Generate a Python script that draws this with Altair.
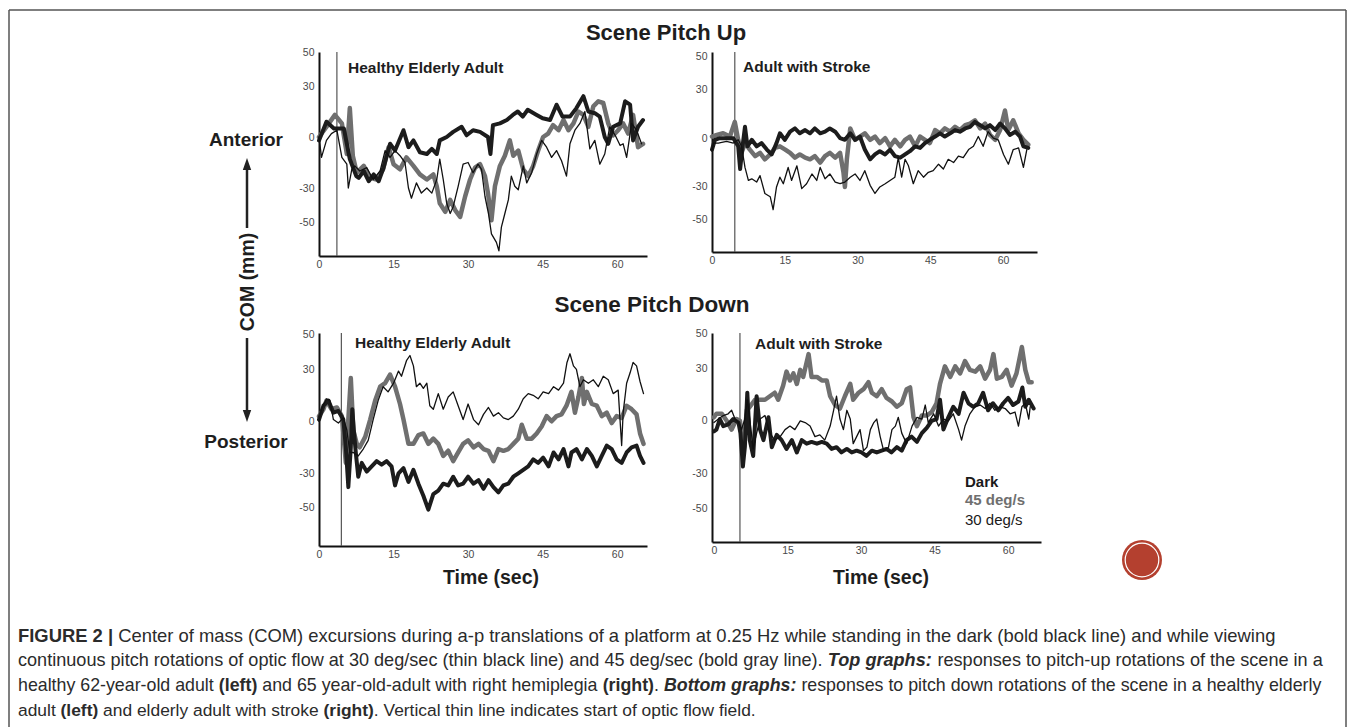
import altair as alt
import pandas as pd

FONT = "Liberation Sans"

# ---------------- data (time in s, COM in mm) ----------------
TIME_TICKS = [0, 15, 30, 45, 60]
COM_TICKS = [50, 30, 0, -30, -50]

# Scene pitch up - healthy elderly adult
TL_DARK = [(0,-2),(1.5,9),(3,5),(5,5),(6.2,-13),(7.5,-23),(8,-24),(9,-20),(10,-26),(11,-22),(12,-26),(13,-18),(14.3,-4),(15.3,-8),(17,4),(18,-6),(19,-2),(20.3,-9),(21.7,-10),(22.7,-7),(23.7,-10),(24.3,-2),(25.7,0),(27,3),(28.7,6),(29.7,1),(31,4),(32.4,3),(34,0),(34.5,-10),(35,7),(36.4,8),(37.8,10),(39,13),(40,15),(41,12),(42,16),(43.8,13),(45,11),(46.5,10),(47.8,19),(49,12),(50.5,12),(51.8,17),(53.2,24),(54.2,15),(55.5,14),(56.5,12),(57.5,0),(58.2,-4),(59.2,6),(60.6,8),(61.6,21),(62.6,19),(63.2,-2),(64.2,6),(65.2,10)]
TL_GRAY = [(0,0),(1.5,6),(3.2,13),(4.6,8),(5.6,-10),(6.2,17),(6.8,-11),(7.6,-21),(9,-17),(10.3,-24),(11.6,-25),(12.9,-19),(14,-6),(15,-16),(16.3,-19),(17.6,-12),(19,-17),(20.3,-22),(21.7,-25),(23,-22),(23.7,-29),(24.3,-39),(25.4,-44),(26.4,-37),(27.4,-43),(28.4,-47),(29.4,-35),(30.4,-25),(31.4,-18),(32.4,-16),(33.4,-23),(34,-33),(34.7,-49),(35.4,-29),(36.4,-17),(37.4,-11),(38.4,-2),(39.1,-11),(40.1,-8),(41.1,-19),(42.1,-23),(43.1,-17),(44.1,-8),(45.1,0),(46.1,2),(47.1,7),(48.2,4),(49.2,10),(50.2,4),(51.2,8),(52.2,15),(53.2,13),(54.2,6),(55.2,18),(56.2,21),(57.2,20),(58.2,8),(59.2,1),(60.2,4),(61.2,8),(62.2,2),(63.2,13),(64.2,-6),(65.2,-4)]
TL_THIN = [(0,0),(0.5,-12),(1.5,-2),(2.5,2),(3.6,4),(4.6,-12),(5.6,-16),(5.9,-30),(6.6,-19),(7.2,-17),(8.2,-20),(9.6,-18),(10.9,-25),(12.3,-20),(13.3,-8),(14.3,-12),(15.3,-8),(16.3,-11),(17.3,-15),(18,-30),(18.6,-36),(19.6,-27),(20.6,-33),(21.7,-30),(22.7,-33),(23.7,-25),(24.3,-13),(25,-25),(25.7,-39),(26.4,-45),(27,-41),(28,-29),(29,-16),(30,-15),(31,-21),(32,-16),(32.7,-19),(33.4,-35),(34.1,-45),(34.7,-57),(35.7,-62),(36.2,-67),(36.7,-53),(37.4,-45),(38.1,-37),(38.7,-23),(39.4,-29),(40.1,-31),(41.1,-17),(41.8,-27),(42.8,-21),(43.8,-10),(44.8,-2),(45.8,-6),(46.8,-12),(47.8,-8),(48.8,-14),(49.8,-23),(50.5,-4),(51.5,4),(52.5,8),(53.5,15),(54.5,-7),(55.5,-2),(56.5,-16),(57.5,-10),(58.5,6),(59.6,1),(60.6,-5),(61.2,-4),(61.9,-12),(62.9,8),(63.9,4),(64.9,-4)]

# Scene pitch up - adult with stroke
TR_DARK = [(0,-7),(0.6,-1),(1.6,0),(3,0),(4.4,0),(5.4,-5),(5.8,-19),(6.3,-5),(6.8,7),(7.3,-5),(8.2,-1),(9.2,-5),(10.2,-3),(11.3,-7),(12.3,-10),(13.3,-3),(14,3),(15,-1),(16.1,4),(17.1,6),(18.1,3),(19.2,5),(20.2,3),(21.2,6),(22.3,3),(23.3,4),(24.3,6),(25.4,4),(26.4,0),(27.4,-1),(28.5,3),(29.5,-1),(30.5,1),(31.5,-7),(32.6,-13),(33.6,-10),(34.6,-8),(35.7,-10),(36.7,-7),(37.7,-11),(38.8,-12),(39.8,-10),(40.8,-8),(41.9,-5),(42.9,-6),(43.9,-3),(44.9,-1),(46,1),(47,3),(48,1),(49.1,3),(50.1,5),(51.1,4),(52.2,6),(53.2,7),(54.2,10),(55.3,8),(56.3,6),(57.3,8),(58.4,5),(59.4,9),(60.4,6),(61.4,2),(62.5,4),(63.5,1),(64.2,-5),(65.2,-6)]
TR_GRAY = [(0,1),(1,2),(2.3,3),(3.7,1),(4.7,10),(5.4,-1),(6.1,-9),(6.8,-3),(7.8,-7),(8.9,-11),(9.9,-9),(10.9,-13),(12,-10),(13,-6),(14,-5),(15.1,-7),(16.1,-9),(17.1,-12),(18.1,-10),(19.2,-12),(20.2,-13),(21.2,-11),(22.3,-15),(23.3,-11),(24.3,-9),(25.4,-12),(26.4,-9),(27.1,-21),(27.4,-30),(27.8,-13),(28.5,6),(29.5,-1),(30.5,1),(31.5,3),(32.6,-1),(33.6,1),(34.6,-3),(35.7,0),(36.7,-5),(37.7,-1),(38.8,-5),(39.8,-1),(40.8,1),(41.9,-5),(42.9,1),(43.9,-1),(44.9,-3),(46,5),(47,3),(48,6),(49.1,4),(50.1,7),(51.1,5),(52.2,8),(53.2,9),(54.2,11),(55.3,6),(56.3,9),(57.3,2),(58.4,-1),(59.4,5),(60.4,17),(61.1,5),(62.1,11),(63.2,3),(64.2,-1),(65.2,-4)]
TR_THIN = [(0,-8),(0.3,-3),(1.3,-3),(3,-2),(4.4,-3),(5.4,-1),(6.1,-5),(6.8,-18),(7.5,-26),(8.2,-25),(9.2,-27),(9.9,-23),(10.9,-34),(12,-36),(12.6,-44),(13.3,-30),(14,-24),(14.7,-28),(15.7,-18),(16.4,-26),(17.5,-17),(18.5,-31),(19.5,-28),(20.6,-22),(21.6,-26),(22.3,-18),(23.3,-25),(24.3,-22),(25.4,-27),(26.4,-28),(27.4,-27),(28.5,-24),(29.5,-22),(30.5,-26),(31.5,-20),(32.6,-29),(33.6,-34),(34.6,-30),(35.7,-28),(36.7,-26),(37.7,-24),(38.4,-12),(39.1,-24),(39.8,-13),(40.5,-17),(41.5,-28),(42.5,-20),(43.6,-24),(44.6,-21),(45.6,-20),(46.7,-16),(47.7,-19),(48.7,-13),(49.8,-15),(50.8,-11),(51.8,-12),(52.9,-7),(53.9,-5),(54.9,1),(55.9,-5),(56.9,4),(58,0),(59,-1),(60.1,-10),(61.1,-16),(62.1,-7),(63.2,-6),(64.2,-18),(64.9,-7)]

# Scene pitch down - healthy elderly adult
BL_DARK = [(0,1),(0.9,9),(1.9,12),(2.9,5),(3.9,6),(4.9,1),(5.4,-15),(5.9,-38),(6.4,-15),(6.7,7),(7,-5),(7.4,-18),(7.9,-32),(8.6,-24),(9.6,-29),(10.6,-26),(11.6,-23),(12.6,-25),(13.6,-23),(14.6,-26),(15.3,-37),(16,-30),(17,-27),(18,-35),(19,-28),(20,-36),(21,-43),(22,-51),(23,-42),(24,-40),(25,-36),(26,-37),(27,-32),(28,-37),(29,-36),(30,-32),(31.1,-36),(32.1,-34),(33.1,-39),(34.1,-34),(35.1,-38),(36.1,-41),(37.1,-37),(38.1,-36),(39.1,-32),(40.1,-30),(41.1,-28),(42.1,-26),(43.1,-22),(44.1,-24),(45.1,-21),(46.2,-26),(47.2,-18),(48.2,-22),(49.2,-16),(50.2,-26),(50.8,-18),(51.8,-16),(52.9,-22),(53.9,-16),(54.9,-20),(55.9,-26),(56.9,-20),(57.9,-14),(58.9,-16),(59.9,-22),(60.9,-24),(61.9,-18),(62.9,-15),(63.9,-14),(64.6,-20),(65.3,-24)]
BL_GRAY = [(0,3),(0.9,7),(1.5,12),(2.5,7),(3.6,8),(4.6,3),(5.4,-24),(5.9,1),(6.4,25),(6.9,-5),(7.6,-13),(8.2,-15),(9.3,-9),(10.3,1),(11.3,12),(12.3,20),(13.3,22),(14.3,27),(15.3,20),(16.3,10),(17,1),(18,-13),(19,-13),(20,-8),(21,-7),(22,-13),(23,-10),(24,-13),(25,-20),(26,-17),(27,-23),(28,-18),(29,-13),(30,-11),(31.1,-15),(32.1,-13),(33.1,-16),(34.1,-17),(35.1,-23),(36.1,-16),(37.1,-17),(38.1,-16),(39.1,-13),(40.1,-10),(40.8,-2),(41.8,-10),(42.8,-10),(43.8,-7),(44.8,-3),(45.8,3),(46.8,0),(47.8,3),(48.8,4),(49.8,9),(50.8,17),(51.5,5),(52.2,14),(52.9,25),(53.3,10),(53.9,17),(54.9,10),(55.9,9),(56.9,3),(57.9,5),(58.9,-1),(59.9,3),(60.9,2),(61.9,9),(62.9,7),(63.9,4),(64.6,-7),(65.3,-13)]
BL_THIN = [(0,0),(0.5,7),(1.5,13),(2.2,12),(2.9,1),(3.9,-1),(4.9,2),(5.6,-5),(6.2,-18),(6.9,-18),(7.9,-20),(8.9,-16),(9.9,-11),(10.9,1),(11.9,12),(12.9,20),(13.9,17),(15,22),(16,29),(16.6,26),(17.6,35),(18.3,38),(19,32),(19.6,20),(20.3,22),(21,19),(21.7,22),(22.3,9),(23,7),(24,16),(25,7),(26,14),(27,17),(28,9),(29,1),(30,10),(31.1,1),(32.1,-2),(33.1,4),(34.1,8),(35.1,3),(36.1,5),(37.1,2),(38.1,1),(39.1,3),(40.1,7),(41.1,13),(42.1,16),(43.1,15),(44.1,13),(45.1,17),(46.2,16),(47.2,20),(48.2,18),(49.2,22),(49.9,34),(50.5,39),(51.2,32),(51.8,30),(52.5,20),(53.2,24),(54.2,22),(55.2,24),(56.2,20),(57.2,26),(58.2,24),(59.2,16),(60.2,18),(60.9,-14),(61.2,5),(61.9,22),(62.6,28),(63.2,34),(63.9,32),(64.6,23),(65.3,16)]

# Scene pitch down - adult with stroke
BR_DARK = [(0,-6),(0.5,-5),(1.2,1),(1.9,-3),(2.9,-2),(3.9,1),(5,-1),(5.4,-7),(5.9,-26),(6.3,-15),(6.8,16),(7.3,-11),(8,-20),(8.7,14),(9.4,-5),(10.1,-11),(11.1,2),(11.8,-15),(12.8,-8),(13.8,-11),(14.8,-16),(15.9,-11),(16.9,-18),(17.9,-11),(18.9,-13),(19.9,-12),(21,-13),(22,-12),(23,-13),(24,-16),(25,-15),(26,-18),(27.1,-16),(28.1,-18),(29.1,-17),(30.1,-18),(31.1,-20),(32.2,-17),(33.2,-18),(34.2,-17),(35.2,-16),(36.2,-18),(37.3,-15),(38.3,-17),(39.3,-11),(40.3,-9),(41.4,-12),(42.4,-7),(43.4,-4),(44.4,0),(45.4,1),(46.1,12),(46.8,-5),(47.8,2),(48.8,8),(49.9,4),(50.9,16),(51.9,10),(52.9,8),(53.9,10),(54.9,16),(55.9,6),(56.9,10),(58,6),(59,10),(60,13),(61,9),(62.1,11),(62.9,19),(63.5,8),(64.2,12),(65.2,7)]
BR_GRAY = [(0,2),(0.5,4),(1.6,4),(2.6,0),(3.6,-5),(4.6,1),(5.3,0),(6,-16),(6.7,6),(7.3,8),(8.4,12),(9.4,12),(10.4,12),(11.4,14),(12.4,16),(13.1,12),(14.1,20),(14.8,28),(15.5,23),(16.2,27),(16.9,21),(17.6,29),(18.2,25),(19.3,38),(19.9,25),(21,25),(22,23),(23,23),(23.7,14),(24.7,9),(25.7,7),(26.7,14),(27.8,21),(28.4,12),(29.5,16),(30.5,18),(31.5,22),(32.2,16),(33.2,14),(34.2,18),(35.2,13),(36.3,11),(37.3,8),(38.3,10),(39.3,18),(40,19),(40.7,2),(41.4,-3),(42.4,3),(43.4,3),(44.4,5),(45.4,10),(46.1,21),(47.1,31),(48.2,25),(49.2,31),(50.2,27),(51.2,34),(52.2,29),(53.3,28),(54.3,31),(55.3,24),(56.3,29),(57,38),(57.7,24),(58.7,25),(59.7,29),(60.7,20),(61.7,27),(62.8,42),(63.5,29),(64.2,22),(64.8,22)]
BR_THIN = [(0,-1),(0.9,1),(1.9,3),(2.9,4),(3.6,6),(4.3,1),(5,-1),(5.6,-5),(6.3,1),(6.8,12),(7.3,1),(8,-16),(8.7,-7),(9.4,1),(10.4,3),(11.4,-7),(12.4,-11),(13.5,-9),(14.5,-5),(15.5,-3),(16.5,-5),(17.6,0),(18.6,-1),(19.6,-3),(20.6,-9),(21.6,-8),(22.6,-11),(23.7,-3),(24.4,6),(25,14),(25.7,1),(26.4,-5),(27.1,6),(27.8,1),(28.4,-13),(29.1,-9),(29.8,-5),(30.5,-17),(31.2,-15),(31.9,-5),(32.6,-1),(33.2,1),(33.9,-9),(34.6,-17),(35.6,-15),(36.3,-5),(37,-3),(37.6,2),(38.3,-7),(39.3,-13),(40.4,-3),(41.4,2),(42.4,1),(43.1,9),(43.7,-1),(44.8,4),(45.8,-3),(46.8,1),(47.8,0),(48.8,4),(49.9,-5),(50.5,-11),(51.2,-3),(52.2,4),(53.2,8),(54.3,9),(55.3,7),(56.3,10),(57.3,6),(58.4,8),(59.4,7),(60.4,4),(61.4,5),(62.1,-3),(62.8,8),(63.5,10),(64.2,1),(64.5,8)]

# start of optic flow (s)
ONSET_TL, ONSET_TR, ONSET_BL, ONSET_BR = 3.6, 4.7, 4.5, 5.3

TITLES = ["Scene Pitch Up", "Scene Pitch Down"]
PANEL_TITLES = ["Healthy Elderly Adult", "Adult with Stroke", "Healthy Elderly Adult", "Adult with Stroke"]
LEGEND = ["Dark", "45 deg/s", "30 deg/s"]
CAPTION = [
    [("FIGURE 2 | ", "bold", "normal"),
     ("Center of mass (COM) excursions during a-p translations of a platform at 0.25 Hz while standing in the dark (bold black line) and while viewing", "normal", "normal")],
    [("continuous pitch rotations of optic flow at 30 deg/sec (thin black line) and 45 deg/sec (bold gray line). ", "normal", "normal"),
     ("Top graphs:", "bold", "italic"),
     (" responses to pitch-up rotations of the scene in a", "normal", "normal")],
    [("healthy 62-year-old adult ", "normal", "normal"), ("(left)", "bold", "normal"),
     (" and 65 year-old-adult with right hemiplegia ", "normal", "normal"), ("(right)", "bold", "normal"),
     (". ", "normal", "normal"), ("Bottom graphs:", "bold", "italic"),
     (" responses to pitch down rotations of the scene in a healthy elderly", "normal", "normal")],
    [("adult ", "normal", "normal"), ("(left)", "bold", "normal"),
     (" and elderly adult with stroke ", "normal", "normal"), ("(right)", "bold", "normal"),
     (". Vertical thin line indicates start of optic flow field.", "normal", "normal")],
]

# ---------------- styling ----------------
C_DARK, C_GRAY, C_THIN = "#1c1c1c", "#6f6f6f", "#111111"
TXT = "#1e1e1e"
CAP_COLOR = "#2b2b2b"

# Helvetica/Arial advance widths (1/1000 em) for caption layout
_REG = dict(zip(" ()-.,/:|", [278, 333, 333, 333, 278, 278, 278, 278, 260]))
_REG.update({d: 556 for d in "0123456789"})
_REG.update(dict(zip("ABCDEFGHIJKLMNOPQRSTUVWXYZ", [667,667,722,722,667,611,778,722,278,500,667,556,833,722,778,667,778,722,667,611,722,667,944,667,667,611])))
_REG.update(dict(zip("abcdefghijklmnopqrstuvwxyz", [556,556,500,556,556,278,556,556,222,222,500,222,833,556,556,556,556,333,500,278,556,500,722,500,500,500])))
_BOLD = dict(zip(" ()-.,/:|", [278, 333, 333, 333, 278, 278, 278, 333, 280]))
_BOLD.update({d: 556 for d in "0123456789"})
_BOLD.update(dict(zip("ABCDEFGHIJKLMNOPQRSTUVWXYZ", [722,722,722,722,667,611,778,722,278,556,722,611,833,722,778,667,778,722,667,611,722,667,944,667,667,611])))
_BOLD.update(dict(zip("abcdefghijklmnopqrstuvwxyz", [556,611,556,611,556,333,611,611,278,278,556,278,889,611,611,611,611,389,556,333,611,556,778,556,556,500])))


def text_width(s, weight, size):
    tab = _BOLD if weight == "bold" else _REG
    return sum(tab.get(c, 556) for c in s) * size / 1000.0


ONE = pd.DataFrame({"k": [0]})


def label(s, x, y, size, weight="normal", color=TXT, align="left", angle=0, style="normal"):
    return alt.Chart(ONE).mark_text(
        text=s, font=FONT, fontSize=size, fontWeight=weight, fontStyle=style,
        color=color, align=align, baseline="middle", angle=angle,
    ).encode(x=alt.value(x), y=alt.value(y))


def seg(x1, y1, x2, y2, color="#222", width=2.0):
    return alt.Chart(ONE).mark_rule(color=color, strokeWidth=width).encode(
        x=alt.value(x1), y=alt.value(y1), x2=alt.value(x2), y2=alt.value(y2))


def symbol(x, y, shape, size, color, filled=True, width=1.0):
    return alt.Chart(ONE).mark_point(
        shape=shape, size=size, filled=filled, color=color, opacity=1, strokeWidth=width
    ).encode(x=alt.value(x), y=alt.value(y))


def panel(dark, gray, thin, onset, xdom, ydom, w, h, extra):
    xs = alt.Scale(domain=xdom, nice=False, zero=False)
    ys = alt.Scale(domain=ydom, nice=False, zero=False)
    common = dict(ticks=False, grid=False, domainColor="#111", domainWidth=2,
                  labelFont=FONT, labelFontSize=10.5, labelColor="#4a4a4a",
                  labelFlush=False, labelOverlap=False, title=None,
                  labelExpr="toString(datum.value)")
    xa = alt.Axis(values=TIME_TICKS, labelPadding=3, **common)
    ya = alt.Axis(values=COM_TICKS, labelPadding=5, **common)

    def series(pairs, color, width):
        df = pd.DataFrame(pairs, columns=["t", "v"])
        return alt.Chart(df).mark_line(
            color=color, strokeWidth=width, strokeJoin="round", strokeCap="round"
        ).encode(x=alt.X("t:Q", scale=xs, axis=xa), y=alt.Y("v:Q", scale=ys, axis=ya))

    rule = alt.Chart(pd.DataFrame({"t": [onset]})).mark_rule(
        color="#555", strokeWidth=1.2).encode(x=alt.X("t:Q", scale=xs, axis=xa))
    layers = [rule, series(gray, C_GRAY, 4.5), series(dark, C_DARK, 4.0),
              series(thin, C_THIN, 1.3)] + extra
    return alt.layer(*layers).properties(width=w, height=h)


# ---- global annotations (placed in top-left panel's coordinate frame) ----
glob = [
    # frame
    seg(-310, -42, 1027, -42, "#555", 1.5),
    seg(-310, -42, -310, 675, "#555", 1.5),
    seg(1027, -42, 1027, 675, "#555", 1.5),
    label(TITLES[0], 347, -19, 22, "bold", align="center"),
    label(TITLES[1], 333, 253, 22.5, "bold", align="center"),
    label("Anterior", -73, 88, 19, "bold", align="center"),
    label("Posterior", -73, 390, 19, "bold", align="center"),
    label("COM (mm)", -71, 230, 19.5, "bold", angle=270, align="center"),
    seg(-72, 116, -72, 176, "#222", 2.5),
    seg(-72, 286, -72, 358, "#222", 2.5),
    symbol(-72, 112, "M0,-1L0.7,1L-0.7,1Z", 144, "#222"),
    symbol(-72, 364, "M0,1L0.7,-1L-0.7,-1Z", 144, "#222"),
    label(PANEL_TITLES[0], 29, 16, 15.5, "bold"),
]

CAP_SIZES = [18.4, 18.1, 17.8, 17.4]
CAP_X0 = -301
for i, line in enumerate(CAPTION):
    size = CAP_SIZES[i]
    x = CAP_X0
    y = 584 + 25 * i
    for s, wgt, sty in line:
        lead = len(s) - len(s.lstrip(" "))
        xs_ = x + text_width(" " * lead, wgt, size)
        if s.strip():
            glob.append(label(s.strip(), xs_, y, size, wgt, CAP_COLOR, style=sty))
        x += text_width(s, wgt, size)

TL = panel(TL_DARK, TL_GRAY, TL_THIN, ONSET_TL, [0, 66], [-70, 50], 328, 204, glob)
TR = panel(TR_DARK, TR_GRAY, TR_THIN, ONSET_TR, [0, 67], [-70, 53], 325, 200,
           [label(PANEL_TITLES[1], 31, 15, 15.5, "bold")])
BL = panel(BL_DARK, BL_GRAY, BL_THIN, ONSET_BL, [0, 66], [-72, 51], 328, 213,
           [label(PANEL_TITLES[2], 36, 10, 15.5, "bold"),
            label("Time (sec)", 172, 245, 19.5, "bold", align="center")])
BR = panel(BR_DARK, BR_GRAY, BR_THIN, ONSET_BR, [-0.4, 66.7], [-69, 50], 329, 209,
           [label(PANEL_TITLES[3], 43, 11, 15.5, "bold"),
            label("Time (sec)", 169, 245, 19.5, "bold", align="center"),
            label(LEGEND[0], 253, 149, 15, "bold", "#1a1a1a"),
            label(LEGEND[1], 253, 167, 15, "bold", "#6f6f6f"),
            label(LEGEND[2], 253, 187, 15, "normal", "#1a1a1a"),
            symbol(430, 227, "circle", 1600, "#b4402f"),
            symbol(430, 227, "circle", 1130, "white", filled=False, width=1.2)])

chart = alt.concat(
    TL, TR, BL, BR, columns=2, spacing={"row": 77, "column": 65},
    bounds="flush", align="each",
).properties(
    padding={"left": 0, "top": 1, "right": 0, "bottom": 0},
    background="white",
).configure(font=FONT, view=alt.ViewConfig(stroke=None))

chart.save("out.html", embed_options={"renderer": "svg", "actions": False})
